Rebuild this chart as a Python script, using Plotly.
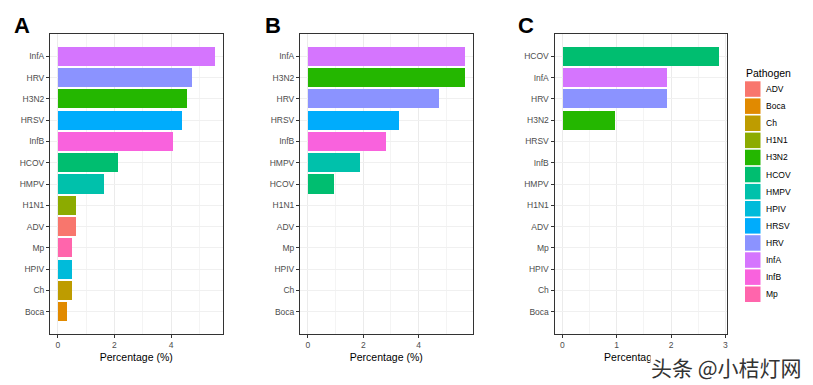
import plotly.graph_objects as go

# The page body keeps its default 8px margin, so the figure is sized to fit
# inside the 813x385 window and every pixel position is offset by 8px.
OFF = 8
W, H = 813 - OFF, 385 - OFF

# Pathogen levels (alphabetical, as in the legend) and ggplot hue colours
levels = ["ADV", "Boca", "Ch", "H1N1", "H3N2", "HCOV", "HMPV", "HPIV",
          "HRSV", "HRV", "InfA", "InfB", "Mp"]
palette = ["#F8766D", "#E18A00", "#BE9C00", "#8CAB00", "#24B700", "#00BE70",
           "#00C1AB", "#00BBDA", "#00ACFC", "#8B93FF", "#D575FE", "#F962DD",
           "#FF65AC"]

# Panel A (top to bottom)
cats_A = ["InfA", "HRV", "H3N2", "HRSV", "InfB", "HCOV", "HMPV", "H1N1",
          "ADV", "Mp", "HPIV", "Ch", "Boca"]
vals_A = [5.54, 4.73, 4.57, 4.40, 4.08, 2.12, 1.63, 0.65, 0.65, 0.49, 0.49,
          0.49, 0.33]

# Panel B
cats_B = ["InfA", "H3N2", "HRV", "HRSV", "InfB", "HMPV", "HCOV", "H1N1",
          "ADV", "Mp", "HPIV", "Ch", "Boca"]
vals_B = [5.66, 5.66, 4.72, 3.30, 2.83, 1.89, 0.94, 0, 0, 0, 0, 0, 0]

# Panel C
cats_C = ["HCOV", "InfA", "HRV", "H3N2", "HRSV", "InfB", "HMPV", "H1N1",
          "ADV", "Mp", "HPIV", "Ch", "Boca"]
vals_C = [2.88, 1.92, 1.92, 0.96, 0, 0, 0, 0, 0, 0, 0, 0, 0]

xticks_A = [0, 2, 4]
xticks_B = [0, 2, 4]
xticks_C = [0, 1, 2, 3]

panel_letters = ["A", "B", "C"]
x_title = "Percentage (%)"
legend_title = "Pathogen"
watermark = "头条 @小桔灯网"

FONT = "Liberation Sans, Arial, sans-serif"
color_of = dict(zip(levels, palette))


def px(x):
    return (x - OFF) / W


def py(y):
    return 1 - (y - OFF) / H


# panel pixel boxes (left, right) and letter centre
panels = [
    (cats_A, vals_A, xticks_A, 50, 222.5, 22),
    (cats_B, vals_B, xticks_B, 300, 472.5, 273),
    (cats_C, vals_C, xticks_C, 554.5, 726.7, 525.5),
]
top_px, bot_px = 34, 334

fig = go.Figure()
shapes = []
annotations = []

for i, (cats, vals, ticks, left, right, letter_x) in enumerate(panels):
    n = i + 1
    xa = "x" if n == 1 else f"x{n}"
    ya = "y" if n == 1 else f"y{n}"
    fig.add_trace(go.Bar(
        x=vals, y=cats, orientation="h", width=0.9,
        marker=dict(color=[color_of[c] for c in cats], line=dict(width=0)),
        xaxis=xa, yaxis=ya, showlegend=False, hoverinfo="x+y",
    ))
    vmax = max(vals)
    rng = [-0.05 * vmax, 1.05 * vmax]
    ncat = len(cats)
    step = ticks[1] - ticks[0]
    fig.update_layout(**{
        ("xaxis" if n == 1 else f"xaxis{n}"): dict(
            domain=[px(left), px(right)], anchor=ya, range=rng,
            tickmode="array", tickvals=ticks, ticktext=[str(t) for t in ticks],
            ticks="outside", ticklen=3, tickcolor="#333333", tickwidth=1,
            tickfont=dict(size=8.5, color="#4D4D4D", family=FONT),
            showgrid=True, gridcolor="#EBEBEB", gridwidth=1,
            minor=dict(dtick=step / 2, tick0=0, showgrid=True,
                       gridcolor="#F4F4F4", gridwidth=0.6, ticks=""),
            showline=True, linecolor="#333333", linewidth=1, mirror=True,
            zeroline=False,
            title=dict(text=x_title, font=dict(size=10.5, color="#000000",
                                               family=FONT), standoff=4),
        ),
        ("yaxis" if n == 1 else f"yaxis{n}"): dict(
            domain=[py(bot_px), py(top_px)], anchor=xa,
            categoryorder="array", categoryarray=list(reversed(cats)),
            range=[-1.05, ncat - 1 + 1.05],
            ticks="outside", ticklen=3, tickcolor="#333333", tickwidth=1,
            tickfont=dict(size=8.5, color="#4D4D4D", family=FONT),
            showgrid=True, gridcolor="#F0F0F0", gridwidth=1,
            showline=True, linecolor="#333333", linewidth=1, mirror=True,
            zeroline=False,
        ),
    })
    annotations.append(dict(
        text=f"<b>{panel_letters[i]}</b>", x=px(letter_x), y=py(25.5),
        xref="paper", yref="paper", xanchor="center", yanchor="middle",
        showarrow=False, font=dict(size=22, color="#000000", family=FONT),
    ))

# legend (drawn as keys + labels)
annotations.append(dict(
    text=legend_title, x=px(743.5), y=py(72.5), xref="paper", yref="paper",
    xanchor="left", yanchor="middle", showarrow=False,
    font=dict(size=10.5, color="#000000", family=FONT),
))
key_top, pitch = 80.5, 17.1
for k, (lab, col) in enumerate(zip(levels, palette)):
    y0 = key_top + k * pitch
    shapes.append(dict(
        type="rect", xref="paper", yref="paper",
        x0=px(745), x1=px(760.5), y0=py(y0 + 0.8), y1=py(y0 + pitch - 0.8),
        fillcolor=col, line=dict(width=0), layer="above",
    ))
    annotations.append(dict(
        text=lab, x=px(763.5), y=py(y0 + pitch / 2), xref="paper",
        yref="paper", xanchor="left", yanchor="middle", showarrow=False,
        font=dict(size=8.5, color="#000000", family=FONT),
    ))

# watermark (covers the end of panel C's axis title, as in the reference)
annotations.append(dict(
    text=watermark, x=px(726), y=py(366.5), xref="paper", yref="paper",
    xanchor="center", yanchor="middle", showarrow=False,
    font=dict(size=21, color="#333333",
              family="Noto Sans CJK SC, sans-serif"),
    bgcolor="#FFFFFF", borderpad=0,
))

fig.update_layout(
    width=W, height=H, margin=dict(l=0, r=0, t=0, b=0),
    paper_bgcolor="#FFFFFF", plot_bgcolor="#FFFFFF",
    shapes=shapes, annotations=annotations, bargap=0, showlegend=False,
    font=dict(family=FONT),
)

fig.write_html("out.html")
